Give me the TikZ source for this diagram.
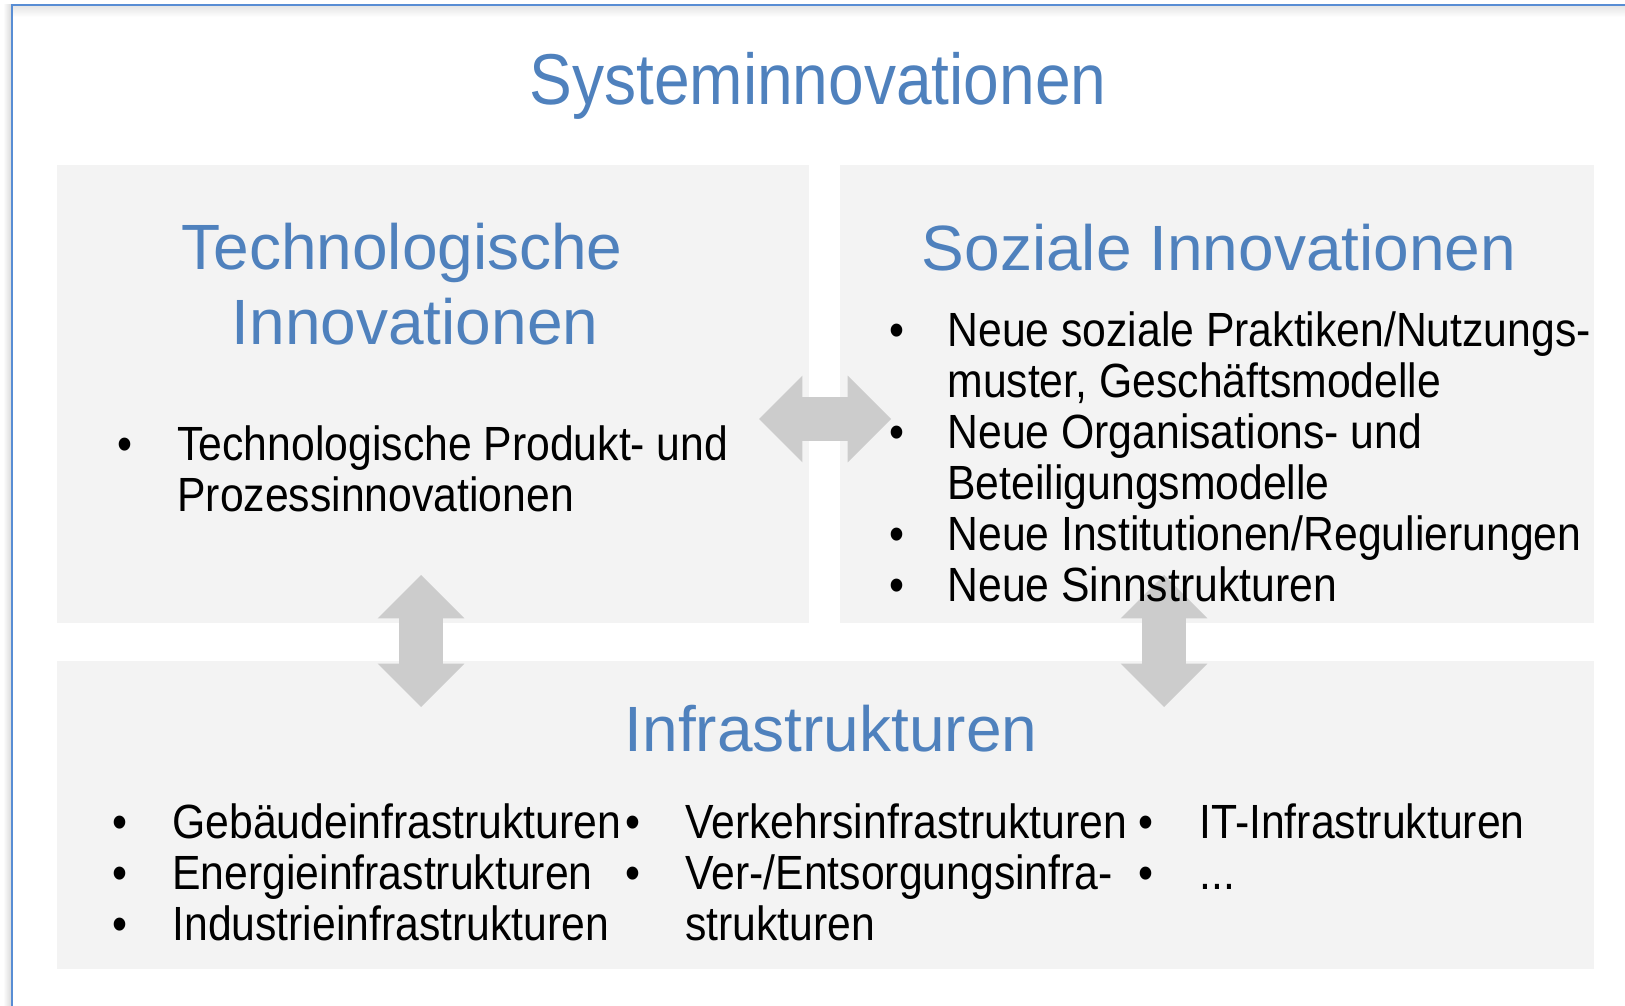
\documentclass[tikz,border=0pt]{standalone}
\usepackage{fontspec}
\setmainfont{Liberation Sans}
\newfontfamily\schmal[FakeStretch=0.89]{Liberation Sans}
\usetikzlibrary{shapes.arrows}
\definecolor{titelblau}{RGB}{79,129,189}
\definecolor{rahmenblau}{RGB}{88,141,212}
\definecolor{kasten}{RGB}{243,243,243}
\definecolor{pfeil}{RGB}{204,204,204}
\tikzset{
  kopf/.style={text=titelblau, inner sep=0pt, anchor=base},
  punkt/.style={inner sep=0pt, anchor=base, font=\schmal\fontsize{24}{25.5}\selectfont},
  eintrag/.style={inner sep=0pt, anchor=base west, font=\schmal\fontsize{24}{25.5}\selectfont},
  doppelpfeil/.style={double arrow, fill=pfeil, draw=none, outer sep=0pt,
    double arrow head extend=10.75pt, double arrow tip angle=90,
    inner xsep=0pt, inner ysep=10.75pt, minimum height=66pt}
}
\begin{document}
\begin{tikzpicture}[x=0.5pt,y=-0.5pt]
  \useasboundingbox (0,0) rectangle (1625,1005);
  % rahmen
  \shade[left color=white, right color=black!14] (3,5) rectangle (11,1005);
  \shade[top color=black!10, bottom color=white] (13,6) rectangle (1625,17);
  \draw[rahmenblau, line width=1pt] (12,1010) -- (12,5) -- (1630,5);
  % kaesten
  \fill[kasten] (57,165) rectangle (809,623);
  \fill[kasten] (840,165) rectangle (1594,623);
  \fill[kasten] (57,661) rectangle (1594,969);
  % pfeile
  \node[doppelpfeil] (pfeilmitte) at (825,419) {};
  \node[doppelpfeil, rotate=90] (pfeillinks) at (421,641) {};
  \node[doppelpfeil, rotate=90] (pfeilrechts) at (1164,641) {};
  % ueberschriften
  \node[kopf, font=\schmal\fontsize{36}{40}\selectfont] (titel) at (818,105) {Systeminnovationen};
  \node[kopf, font=\fontsize{32}{36}\selectfont] (tech1) at (402,270) {Technologische};
  \node[kopf, font=\fontsize{32}{36}\selectfont] (tech2) at (415,344) {Innovationen};
  \node[kopf, font=\fontsize{32}{36}\selectfont] (sozial) at (1219,271) {Soziale Innovationen};
  \node[kopf, font=\fontsize{32}{36}\selectfont] (infra) at (831,751) {Infrastrukturen};
  % technologische
  \node[punkt] (pt1) at (125,460) {•};
  \node[eintrag] (tt1) at (177,460) {Technologische Produkt- und};
  \node[eintrag] (tt2) at (177,511) {Prozessinnovationen};
  % soziale
  \node[punkt] (ps1) at (897,346) {•};
  \node[punkt] (ps3) at (897,448) {•};
  \node[punkt] (ps5) at (897,550) {•};
  \node[punkt] (ps6) at (897,601) {•};
  \node[eintrag] (ts1) at (947,346) {Neue soziale Praktiken/Nutzungs-};
  \node[eintrag] (ts2) at (947,397) {muster, Geschäftsmodelle};
  \node[eintrag] (ts3) at (947,448) {Neue Organisations- und};
  \node[eintrag] (ts4) at (947,499) {Beteiligungsmodelle};
  \node[eintrag] (ts5) at (947,550) {Neue Institutionen/Regulierungen};
  \node[eintrag] (ts6) at (947,601) {Neue Sinnstrukturen};
  % infrastrukturen
  \node[punkt] (pi1) at (120,838) {•};
  \node[punkt] (pi2) at (120,889) {•};
  \node[punkt] (pi3) at (120,940) {•};
  \node[eintrag] (ti1) at (172,838) {Gebäudeinfrastrukturen};
  \node[eintrag] (ti2) at (172,889) {Energieinfrastrukturen};
  \node[eintrag] (ti3) at (172,940) {Industrieinfrastrukturen};
  \node[punkt] (pi4) at (633,838) {•};
  \node[punkt] (pi5) at (633,889) {•};
  \node[eintrag] (ti4) at (685,838) {Verkehrsinfrastrukturen};
  \node[eintrag] (ti5) at (685,889) {Ver-/Entsorgungsinfra-};
  \node[eintrag] (ti6) at (685,940) {strukturen};
  \node[punkt] (pi6) at (1146,838) {•};
  \node[punkt] (pi7) at (1146,889) {•};
  \node[eintrag] (ti7) at (1199,838) {IT-Infrastrukturen};
  \node[eintrag] (ti8) at (1199,889) {...};
\end{tikzpicture}
\end{document}
